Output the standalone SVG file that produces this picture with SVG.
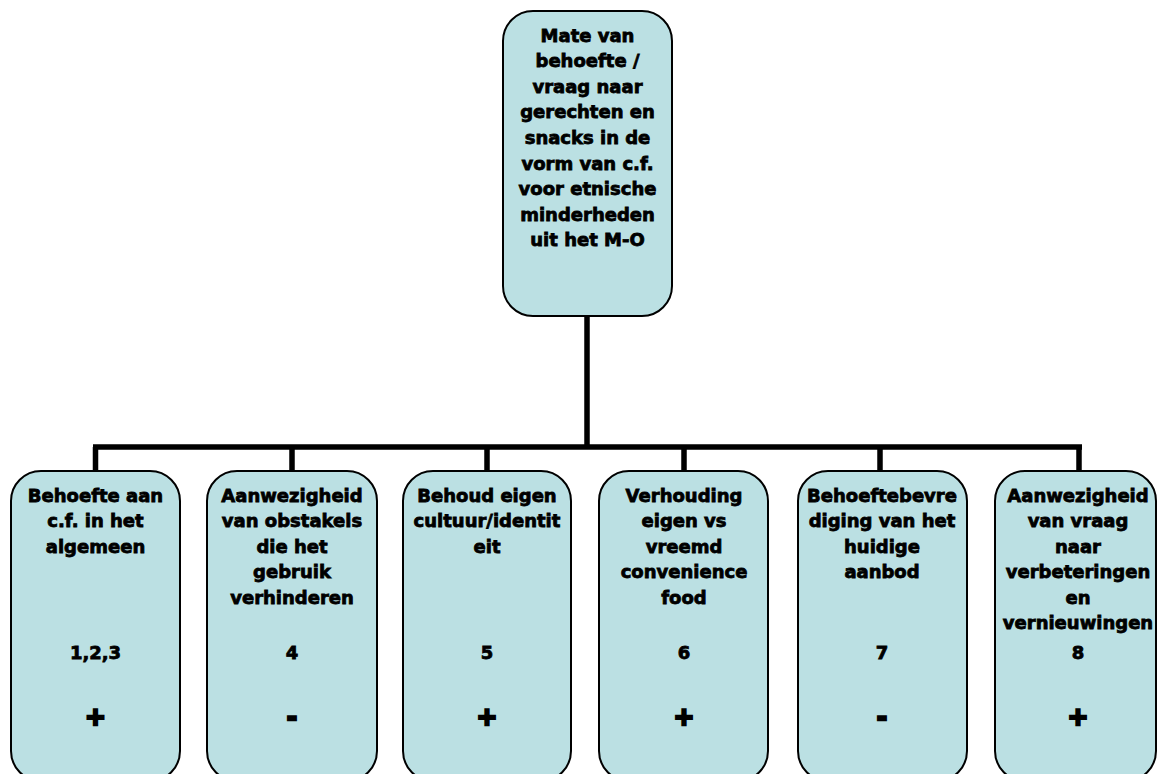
<svg xmlns="http://www.w3.org/2000/svg" width="1157" height="774" viewBox="0 0 1157 774">
<style>
.box{fill:#BBE0E3;stroke:#000;stroke-width:2}
.t{font-family:"DejaVu Sans",Verdana,sans-serif;font-weight:bold;font-size:18px;fill:#000;stroke:#000;stroke-width:0.8;text-anchor:middle}
.s{font-size:25px;stroke-width:2.4}
.c{stroke:#000;stroke-width:5.5;fill:none;stroke-linecap:butt}
</style>
<rect width="1157" height="774" fill="#fff"/>
<g id="connectors">
<path class="c" d="M587 316V447M93 447H1082M95.5 447V471M292 447V471M487 447V471M684 447V471M880 447V471M1079 447V471"/>
</g>
<g id="top">
<rect class="box" x="503" y="11" width="169" height="305" rx="30"/>
<text class="t"><tspan x="587.5" y="41.5">Mate van</tspan><tspan x="587.5" y="67">behoefte /</tspan><tspan x="587.5" y="92.7">vraag naar</tspan><tspan x="587.5" y="118.3">gerechten en</tspan><tspan x="587.5" y="144">snacks in de</tspan><tspan x="587.5" y="169.6">vorm van c.f.</tspan><tspan x="587.5" y="195.2">voor etnische</tspan><tspan x="587.5" y="220.8">minderheden</tspan><tspan x="587.5" y="246.4">uit het M-O</tspan></text>
</g>
<g id="n1">
<rect class="box" x="11" y="471" width="169" height="310" rx="30"/>
<text class="t"><tspan x="95.5" y="501.5">Behoefte aan</tspan><tspan x="95.5" y="527">c.f. in het</tspan><tspan x="95.5" y="552.5">algemeen</tspan><tspan x="95.5" y="659">1,2,3</tspan></text>
<text class="t s" x="95.5" y="725">+</text>
</g>
<g id="n2">
<rect class="box" x="207" y="471" width="170" height="310" rx="30"/>
<text class="t"><tspan x="292" y="501.5">Aanwezigheid</tspan><tspan x="292" y="527">van obstakels</tspan><tspan x="292" y="552.5">die het</tspan><tspan x="292" y="578">gebruik</tspan><tspan x="292" y="603.5">verhinderen</tspan><tspan x="292" y="659">4</tspan></text>
<text class="t s" x="292" y="725">-</text>
</g>
<g id="n3">
<rect class="box" x="403" y="471" width="168" height="310" rx="30"/>
<text class="t"><tspan x="487" y="501.5">Behoud eigen</tspan><tspan x="487" y="527">cultuur/identit</tspan><tspan x="487" y="552.5">eit</tspan><tspan x="487" y="659">5</tspan></text>
<text class="t s" x="487" y="725">+</text>
</g>
<g id="n4">
<rect class="box" x="599" y="471" width="169" height="310" rx="30"/>
<text class="t"><tspan x="684" y="501.5">Verhouding</tspan><tspan x="684" y="527">eigen vs</tspan><tspan x="684" y="552.5">vreemd</tspan><tspan x="684" y="578">convenience</tspan><tspan x="684" y="603.5">food</tspan><tspan x="684" y="659">6</tspan></text>
<text class="t s" x="684" y="725">+</text>
</g>
<g id="n5">
<rect class="box" x="798" y="471" width="169" height="310" rx="30"/>
<text class="t"><tspan x="882" y="501.5">Behoeftebevre</tspan><tspan x="882" y="527">diging van het</tspan><tspan x="882" y="552.5">huidige</tspan><tspan x="882" y="578">aanbod</tspan><tspan x="882" y="659">7</tspan></text>
<text class="t s" x="882" y="725">-</text>
</g>
<g id="n6">
<rect class="box" x="995" y="471" width="161" height="310" rx="30"/>
<text class="t"><tspan x="1078" y="501.5">Aanwezigheid</tspan><tspan x="1078" y="527">van vraag</tspan><tspan x="1078" y="552.5">naar</tspan><tspan x="1078" y="578">verbeteringen</tspan><tspan x="1078" y="603.5">en</tspan><tspan x="1078" y="629">vernieuwingen</tspan><tspan x="1078" y="659">8</tspan></text>
<text class="t s" x="1078" y="725">+</text>
</g>
</svg>
